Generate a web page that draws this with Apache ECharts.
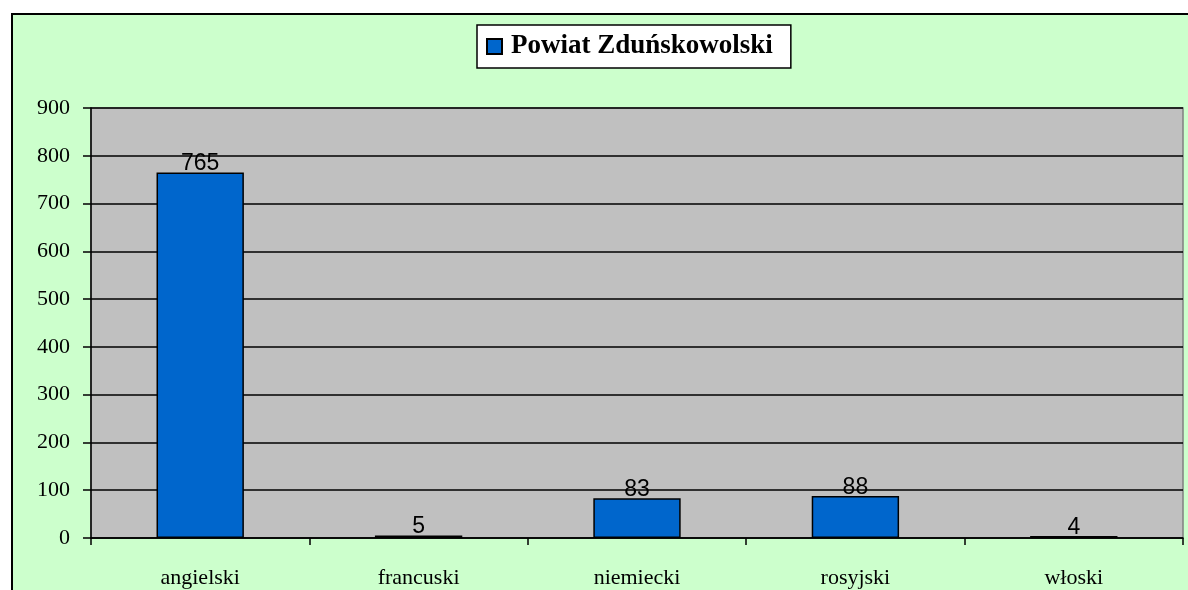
<!DOCTYPE html>
<html>
<head>
<meta charset="utf-8">
<script src="https://cdn.jsdelivr.net/npm/echarts@6/dist/echarts.min.js"></script>
<style>
  html, body { margin: 0; padding: 0; background: #fff; }
  #chart { width: 1188px; height: 590px; }
</style>
</head>
<body>
<div id="chart"></div>
<script>
// dane
var categories = ['angielski', 'francuski', 'niemiecki', 'rosyjski', 'włoski'];
var values = [765, 5, 83, 88, 4];
var seriesName = 'Powiat Zduńskowolski';

var chart = echarts.init(document.getElementById('chart'));
var option = {
  backgroundColor: '#ffffff',
  animation: false,
  graphic: [{
    type: 'rect',
    z: -10,
    shape: { x: 12, y: 14, width: 1200, height: 600 },
    style: { fill: '#CCFFCC', stroke: '#000', lineWidth: 2 }
  }],
  legend: {
    left: 477,
    top: 25,
    padding: [8, 18, 8, 9],
    backgroundColor: '#fff',
    borderColor: '#000',
    borderWidth: 1.5,
    itemWidth: 15,
    itemHeight: 15,
    itemGap: 6,
    textStyle: {
      fontFamily: 'Liberation Serif',
      fontWeight: 'bold',
      fontSize: 27,
      color: '#000',
      padding: [0, 0, 0, 4]
    },
    data: [{ name: seriesName, icon: 'rect' }]
  },
  grid: {
    left: 91,
    top: 108,
    right: 5,
    bottom: 52,
    show: true,
    backgroundColor: '#C0C0C0',
    borderColor: '#808080',
    borderWidth: 1.5
  },
  xAxis: {
    type: 'category',
    data: categories,
    boundaryGap: true,
    axisLine: { lineStyle: { color: '#000', width: 1.5 } },
    axisTick: { show: true, length: 7, lineStyle: { color: '#000', width: 1.5 } },
    axisLabel: {
      margin: 29,
      fontFamily: 'Liberation Serif',
      fontSize: 22,
      color: '#000'
    }
  },
  yAxis: {
    type: 'value',
    min: 0,
    max: 900,
    interval: 100,
    axisLine: { show: true, lineStyle: { color: '#000', width: 1.5 } },
    axisTick: { show: true, length: 8, lineStyle: { color: '#000', width: 1.5 } },
    axisLabel: {
      margin: 21,
      fontFamily: 'Liberation Serif',
      fontSize: 22,
      color: '#000'
    },
    splitLine: { show: true, lineStyle: { color: '#000', width: 1.5 } }
  },
  series: [{
    name: seriesName,
    type: 'bar',
    data: values,
    barWidth: '40%',
    itemStyle: { color: '#0066CC', borderColor: '#000', borderWidth: 1.5 },
    label: {
      show: true,
      position: 'top',
      distance: -3,
      fontFamily: 'Liberation Sans',
      fontSize: 23,
      color: '#000'
    }
  }]
};
chart.setOption(option);
</script>
</body>
</html>
